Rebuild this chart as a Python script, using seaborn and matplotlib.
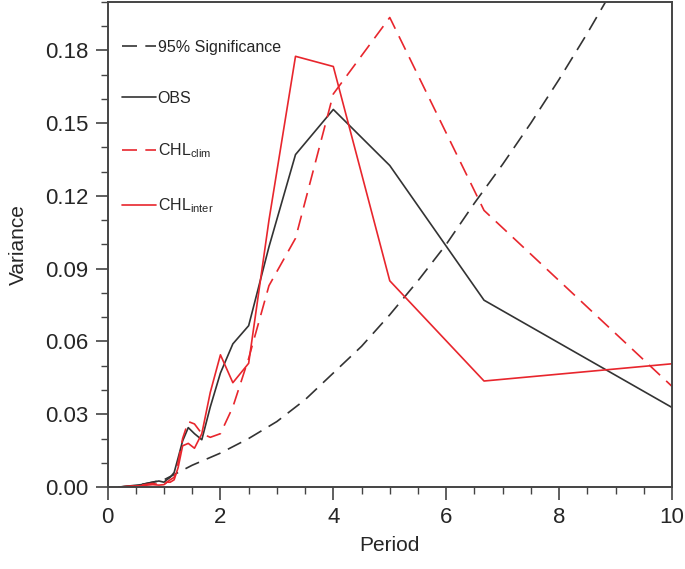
import numpy as np
import pandas as pd
import matplotlib
matplotlib.use("Agg")
import matplotlib.pyplot as plt
from matplotlib.ticker import MultipleLocator
import seaborn as sns

# -------------------- DATA --------------------
periods = [0.2, 0.4, 0.6, 0.8, 0.91, 1.0, 1.05, 1.11, 1.18, 1.25, 1.33, 1.43,
           1.54, 1.67, 1.82, 2.0, 2.22, 2.5, 2.86, 3.33, 4.0, 5.0, 6.67, 10.0]

obs = [0.0, 0.0005, 0.001, 0.002, 0.0025, 0.002, 0.003, 0.004, 0.006, 0.012,
       0.019, 0.0245, 0.022, 0.0195, 0.033, 0.047, 0.059, 0.0665, 0.099,
       0.137, 0.1556, 0.1325, 0.077, 0.0328]

chl_clim = [0.0, 0.0003, 0.0008, 0.0015, 0.001, 0.001, 0.002, 0.003, 0.004,
            0.010, 0.020, 0.027, 0.026, 0.022, 0.0205, 0.022, 0.033, 0.053,
            0.083, 0.1025, 0.162, 0.1935, 0.114, 0.0415]

chl_inter = [0.0, 0.0003, 0.0006, 0.001, 0.0008, 0.001, 0.002, 0.002, 0.003,
             0.008, 0.017, 0.018, 0.016, 0.022, 0.039, 0.0545, 0.043, 0.051,
             0.11, 0.1775, 0.1733, 0.085, 0.0437, 0.0508]

sig_periods = [0.2, 0.5, 1.0, 1.5, 2.0, 2.5, 3.0, 3.5, 4.0, 4.5, 5.0, 5.5,
               6.0, 6.5, 7.0, 7.5, 8.0, 8.5, 9.0]
sig_95 = [0.0, 0.0006, 0.003, 0.009, 0.014, 0.020, 0.027, 0.036, 0.047,
          0.058, 0.071, 0.085, 0.100, 0.117, 0.133, 0.150, 0.168, 0.187, 0.207]

RED = "#e8262d"
DARK = "#333333"

# -------------------- FIGURE --------------------
sns.set_style("ticks")
plt.rcParams["font.family"] = ["Liberation Sans", "DejaVu Sans"]

fig = plt.figure(figsize=(6.85, 5.69), dpi=100)
ax = fig.add_axes([0.157, 0.144, 0.824, 0.853])

sig_df = pd.DataFrame({"Period": sig_periods, "Variance": sig_95})
sns.lineplot(data=sig_df, x="Period", y="Variance", ax=ax, color=DARK,
             lw=1.2, label="95% Significance")
ax.lines[-1].set_dashes((9, 5))

sns.lineplot(x=periods, y=obs, ax=ax, color=DARK, lw=1.2, label="OBS")
sns.lineplot(x=periods, y=chl_clim, ax=ax, color=RED, lw=1.2,
             label=r"CHL$_{\mathregular{clim}}$")
ax.lines[-1].set_dashes((9, 5))
sns.lineplot(x=periods, y=chl_inter, ax=ax, color=RED, lw=1.2,
             label=r"CHL$_{\mathregular{inter}}$")

ax.set_xlim(0, 10)
ax.set_ylim(0, 0.2)
ax.set_xticks([0, 2, 4, 6, 8, 10])
ax.set_yticks([0.0, 0.03, 0.06, 0.09, 0.12, 0.15, 0.18])
ax.set_yticklabels(["0.00", "0.03", "0.06", "0.09", "0.12", "0.15", "0.18"])
ax.xaxis.set_minor_locator(MultipleLocator(0.5))
ax.yaxis.set_minor_locator(MultipleLocator(0.01))
ax.tick_params(which="major", direction="out", length=9, width=1.2,
               labelsize=16, color="#444444", pad=5)
ax.tick_params(which="minor", direction="out", length=5, width=1.0,
               color="#444444")

for side in ["top", "right", "left", "bottom"]:
    ax.spines[side].set_visible(True)
    ax.spines[side].set_color("#444444")
    ax.spines[side].set_linewidth(1.4)

ax.set_xlabel("Period", fontsize=15, labelpad=6)
ax.set_ylabel("Variance", fontsize=15, labelpad=12)

ax.legend(loc="upper left", bbox_to_anchor=(0.015, 0.935), frameon=False,
          fontsize=11.5, handlelength=2.1, handletextpad=0.1,
          labelspacing=2.25, borderaxespad=0)

fig.savefig("out.png", dpi=100)
